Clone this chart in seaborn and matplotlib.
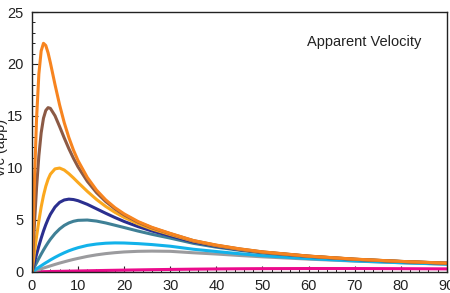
import pandas as pd
import matplotlib
matplotlib.use("Agg")
import matplotlib.pyplot as plt
from matplotlib.ticker import MultipleLocator
import seaborn as sns

angle = [0, 0.5, 1, 1.5, 2, 2.5, 3, 3.5, 4, 5, 6, 7, 8, 9, 10, 12, 14, 16, 18, 20,
         23, 26, 30, 35, 40, 45, 50, 60, 70, 80, 90]

# apparent velocity v/c for each curve (drawn back to front)
pink = [0, 0.005, 0.009, 0.014, 0.018, 0.023, 0.027, 0.032, 0.037, 0.046, 0.055, 0.064, 0.073,
        0.081, 0.09, 0.107, 0.124, 0.141, 0.156, 0.171, 0.193, 0.213, 0.237, 0.263, 0.284,
        0.301, 0.313, 0.324, 0.322, 0.31, 0.29]
gray = [0, 0.07, 0.15, 0.22, 0.29, 0.37, 0.44, 0.51, 0.58, 0.72, 0.85, 0.97, 1.09, 1.20, 1.30,
        1.49, 1.64, 1.76, 1.85, 1.92, 1.98, 2.00, 1.98, 1.84, 1.72, 1.58, 1.45, 1.23, 1.04, 0.89, 0.75]
sky = [0, 0.15, 0.30, 0.45, 0.59, 0.74, 0.88, 1.01, 1.15, 1.40, 1.63, 1.84, 2.03, 2.19, 2.33,
       2.55, 2.68, 2.76, 2.79, 2.78, 2.72, 2.63, 2.47, 2.18, 1.96, 1.75, 1.56, 1.28, 1.06, 0.88, 0.74]
teal = [0, 0.44, 0.87, 1.30, 1.71, 2.10, 2.47, 2.82, 3.14, 3.69, 4.13, 4.47, 4.71, 4.87, 4.96,
        4.99, 4.89, 4.71, 4.49, 4.27, 3.93, 3.62, 3.25, 2.75, 2.38, 2.08, 1.83, 1.47, 1.19, 0.99, 0.82]
navy = [0, 0.86, 1.69, 2.49, 3.24, 3.93, 4.54, 5.08, 5.54, 6.24, 6.69, 6.92, 7.00, 6.96, 6.85,
        6.50, 6.07, 5.64, 5.23, 4.85, 4.36, 3.94, 3.47, 2.88, 2.47, 2.14, 1.88, 1.50, 1.21, 1.00, 0.83]
light_orange = [0, 1.74, 3.40, 4.91, 6.24, 7.34, 8.23, 8.91, 9.40, 9.91, 9.99, 9.80, 9.45, 9.04,
                8.60, 7.75, 6.97, 6.30, 5.73, 5.24, 4.63, 4.13, 3.60, 2.97, 2.53, 2.18, 1.90,
                1.51, 1.22, 1.01, 0.84]
brown = [0, 4.28, 8.11, 11.18, 13.38, 14.78, 15.53, 15.80, 15.73, 15.02, 13.98, 12.89, 11.86,
         10.93, 10.10, 8.72, 7.63, 6.77, 6.07, 5.49, 4.79, 4.25, 3.68, 3.01, 2.56, 2.21, 1.92,
         1.52, 1.22, 1.01, 0.84]
orange = [0, 8.16, 14.74, 19.04, 21.26, 21.99, 21.78, 21.07, 20.11, 18.02, 16.06, 14.36, 12.93,
          11.72, 10.70, 9.09, 7.87, 6.93, 6.18, 5.58, 4.85, 4.29, 3.70, 3.02, 2.58, 2.22, 1.93,
          1.52, 1.23, 1.01, 0.84]

curves = {"pink": pink, "gray": gray, "sky": sky, "teal": teal, "navy": navy,
          "light_orange": light_orange, "brown": brown, "orange": orange}
colors = {"pink": "#EC0A8C", "gray": "#9B9B9E", "sky": "#12B2EA", "teal": "#3F8096",
          "navy": "#2B2F8F", "light_orange": "#FBA81E", "brown": "#8C5A45", "orange": "#F7841F"}

df = pd.concat([pd.DataFrame({"angle": angle, "v": v, "curve": name})
                for name, v in curves.items()], ignore_index=True)

sns.set_style("ticks")
plt.rcParams['font.family'] = ['Liberation Sans', 'DejaVu Sans']

fig = plt.figure(figsize=(4.5, 2.93), dpi=100)
ax = fig.add_axes([0.071, 0.072, 0.922, 0.887])

sns.lineplot(data=df, x="angle", y="v", hue="curve", hue_order=list(curves),
             palette=colors, linewidth=2.2, legend=False, ax=ax)

ax.set_xlim(0, 90)
ax.set_ylim(0, 25)
ax.xaxis.set_major_locator(MultipleLocator(10))
ax.xaxis.set_minor_locator(MultipleLocator(2))
ax.yaxis.set_major_locator(MultipleLocator(5))
ax.yaxis.set_minor_locator(MultipleLocator(1))
ax.tick_params(which="both", direction="in", labelsize=10.5, colors="#222222")
ax.tick_params(axis="x", pad=5)
ax.tick_params(axis="y", pad=6)
ax.tick_params(which="major", length=4, width=0.8)
ax.tick_params(which="minor", length=2.5, width=0.7)
for s in ax.spines.values():
    s.set_linewidth(1.0)
    s.set_color("#222222")

ax.set_xlabel("")
ax.set_ylabel("v/c (app)", fontsize=10.5, color="#222222")
ax.yaxis.set_label_coords(-0.058, 0.48)
ax.text(0.8, 0.885, "Apparent Velocity", transform=ax.transAxes, fontsize=10.5,
        ha="center", va="center", color="#222222")

fig.savefig("out.png", dpi=100)
